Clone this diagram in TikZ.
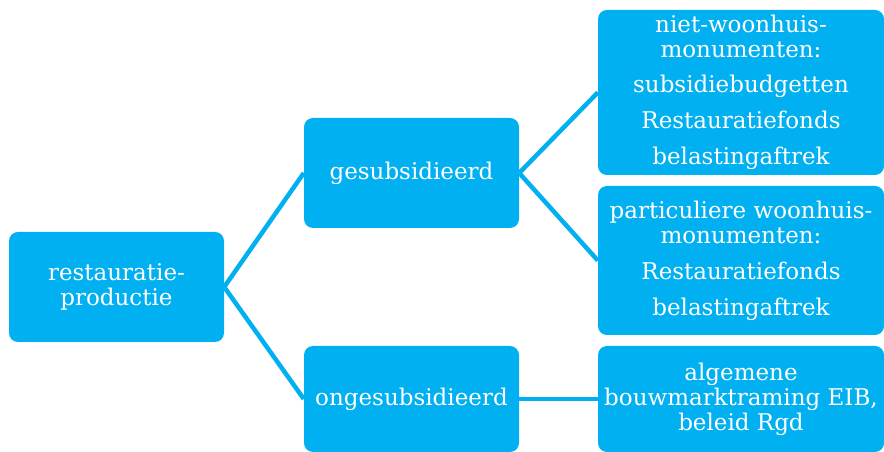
\documentclass[tikz,border=0pt]{standalone}
\usepackage{fontspec}
\setmainfont{DejaVu Serif}
\definecolor{boxblue}{RGB}{0,176,240}
\begin{document}
\begin{tikzpicture}[x=1pt,y=1pt,
  box/.style={draw=none,fill=boxblue,rounded corners=9pt,text=white,align=center,
    inner sep=0pt,font=\fontsize{23}{25}\selectfont},
  conn/.style={draw=boxblue,line width=4.5pt}]
\useasboundingbox (0,0) rectangle (884,452);
\clip (0,0) rectangle (884,452);
\node[box,minimum width=215pt,minimum height=110pt] (r) at (116.5,165) {restauratie-\\productie};
\node[box,minimum width=215pt,minimum height=110pt] (g) at (411.5,279) {gesubsidieerd};
\node[box,minimum width=215pt,minimum height=106pt] (o) at (411.5,53) {ongesubsidieerd};
\node[box,minimum width=286pt,minimum height=165pt] (t1) at (741,359.5) {niet-woonhuis-\\monumenten:\\[10pt]subsidiebudgetten\\[11pt]Restauratiefonds\\[11pt]belastingaftrek};
\node[box,minimum width=286pt,minimum height=149pt] (t2) at (741,191.5) {particuliere woonhuis-\\monumenten:\\[11pt]Restauratiefonds\\[11pt]belastingaftrek};
\node[box,minimum width=286pt,minimum height=106pt] (t3) at (741,53) {algemene\\bouwmarktraming EIB,\\beleid Rgd};
\draw[conn] (r.east) -- (g.west);
\draw[conn] (r.east) -- (o.west);
\draw[conn] (g.east) -- (t1.west);
\draw[conn] (g.east) -- (t2.west);
\draw[conn] (o.east) -- (t3.west);
\end{tikzpicture}
\end{document}
